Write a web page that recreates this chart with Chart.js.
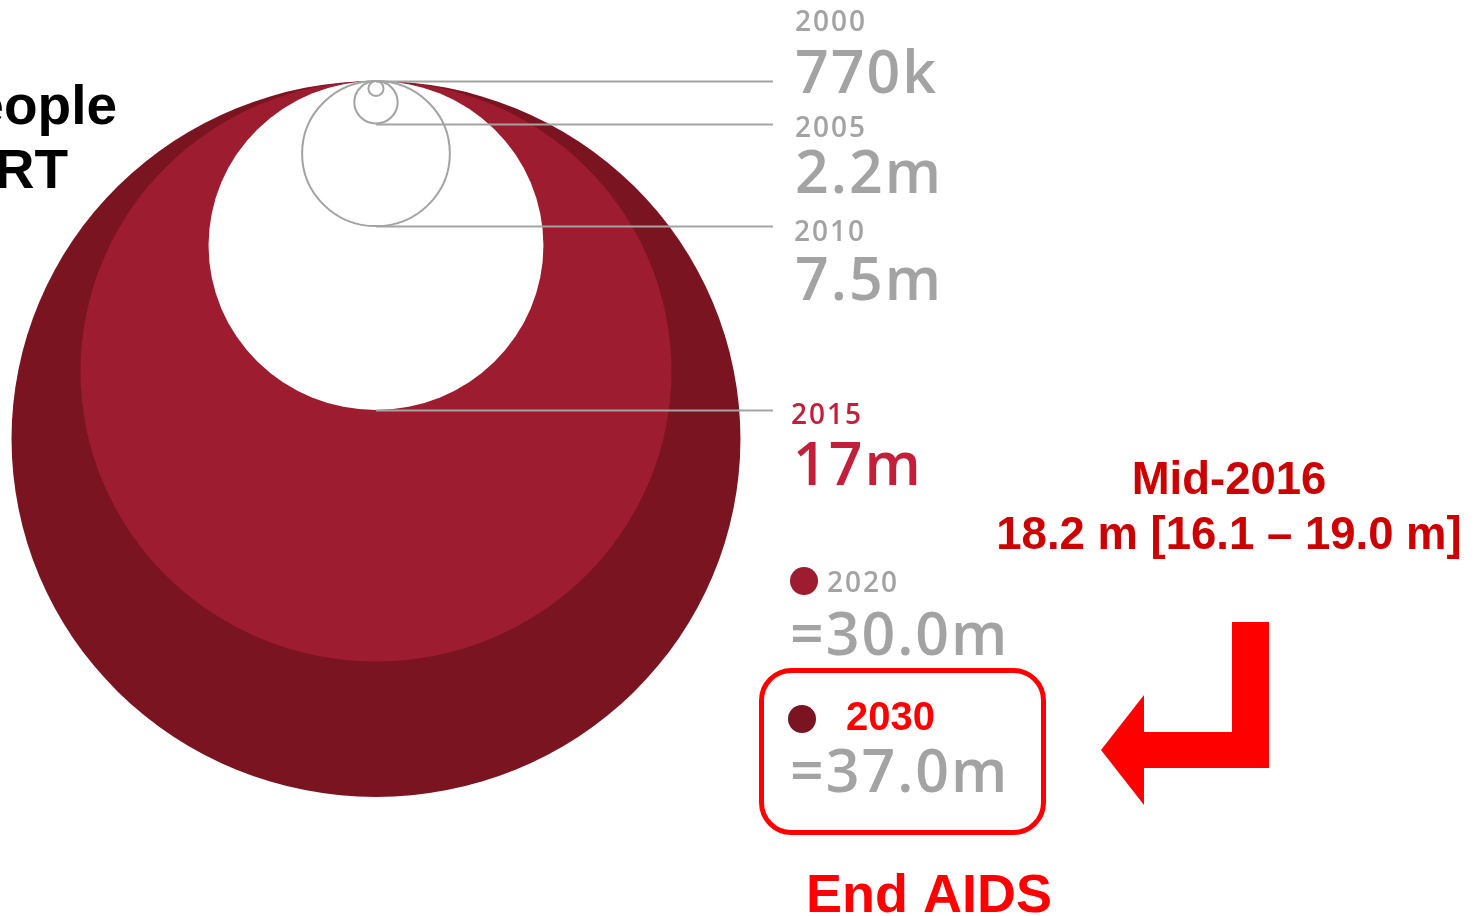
<!DOCTYPE html>
<html>
<head>
<meta charset="utf-8">
<script src="https://cdn.jsdelivr.net/npm/chart.js@4"></script>
<style>
  html, body { margin: 0; padding: 0; background: #fff; overflow: hidden; }
  #wrap { width: 1474px; height: 916px; }
</style>
</head>
<body>
<div id="wrap"><canvas id="chart" width="1474" height="916"></canvas></div>
<script>
// people on ART (millions), diameter of each circle is proportional to the value
const years = ['2000', '2005', '2010', '2015', '2020', '2030'];
const values = [0.77, 2.2, 7.5, 17, 30, 37];
const valueLabels = ['770k', '2.2m', '7.5m', '17m', '=30.0m', '=37.0m'];

const fills = ['none', 'none', 'none', '#ffffff', '#9d1c2f', '#7a1420'];
const grey = '#a3a3a3';
const numFont = '"Open Sans", "Noto Sans", sans-serif';

const circlesPlugin = {
    id: 'circles',
    beforeDatasetsDraw(chart) {
        const { ctx, scales: { x, y } } = chart;
        const sx = x.getPixelForValue(1) - x.getPixelForValue(0);
        const sy = y.getPixelForValue(1) - y.getPixelForValue(0);
        const cx = x.getPixelForValue(0);
        ctx.save();
        for (let i = values.length - 1; i >= 0; i--) {
            const v = values[i];
            ctx.beginPath();
            ctx.ellipse(cx, y.getPixelForValue(v), v * sx, Math.abs(v * sy), 0, 0, Math.PI * 2);
            if (fills[i] !== 'none') {
                ctx.fillStyle = fills[i];
                ctx.fill();
            } else {
                ctx.strokeStyle = grey;
                ctx.lineWidth = 2;
                ctx.stroke();
            }
        }
        // leader lines to the labels
        ctx.strokeStyle = grey;
        ctx.lineWidth = 2;
        for (let i = 0; i < 4; i++) {
            const ly = Math.round(y.getPixelForValue(i === 0 ? 0 : 2 * values[i])) + 0.5;
            ctx.beginPath();
            ctx.moveTo(cx, ly);
            ctx.lineTo(x.getPixelForValue(40.3), ly);
            ctx.stroke();
        }
        ctx.restore();
    }
};

const labelsPlugin = {
    id: 'labels',
    afterDraw(chart) {
        const ctx = chart.ctx;
        ctx.save();
        ctx.textBaseline = 'alphabetic';

        // left title (cut off by the frame)
        ctx.fillStyle = '#000';
        ctx.font = 'bold 55px "Liberation Sans", Arial, sans-serif';
        ctx.textAlign = 'right';
        ctx.fillText('Number of people', 117, 124);
        ctx.fillText('on ART', 68, 188);

        // year / value labels
        ctx.textAlign = 'left';
        const yearPos = [[795, 31], [795, 137], [794, 241], [791, 424], [827, 592]];
        const valPos = [[795, 93], [795, 193], [795, 300], [793, 485], [790, 655], [790, 792]];
        ctx.letterSpacing = '2px';
        for (let i = 0; i < 5; i++) {
            ctx.fillStyle = i === 3 ? '#c21f3a' : grey;
            ctx.font = '600 28px ' + numFont;
            ctx.fillText(years[i], yearPos[i][0], yearPos[i][1]);
        }
        for (let i = 0; i < 6; i++) {
            ctx.fillStyle = i === 3 ? '#c21f3a' : grey;
            ctx.font = '600 59px ' + numFont;
            ctx.fillText(valueLabels[i], valPos[i][0], valPos[i][1]);
        }
        ctx.letterSpacing = '0px';

        // legend dots
        ctx.fillStyle = fills[4];
        ctx.beginPath(); ctx.arc(804, 581, 14, 0, Math.PI * 2); ctx.fill();
        ctx.fillStyle = fills[5];
        ctx.beginPath(); ctx.arc(802, 719, 14, 0, Math.PI * 2); ctx.fill();

        // 2030 box
        ctx.strokeStyle = '#ff0000';
        ctx.lineWidth = 5;
        ctx.beginPath();
        ctx.roundRect(761.5, 670.5, 282, 162, 30);
        ctx.stroke();
        ctx.fillStyle = '#ff0000';
        ctx.font = 'bold 40px "Liberation Sans", Arial, sans-serif';
        ctx.fillText(years[5], 846, 730);
        ctx.font = 'bold 54px "Liberation Sans", Arial, sans-serif';
        ctx.fillText('End AIDS', 806, 912);

        // mid-2016 note
        ctx.fillStyle = '#cc0000';
        ctx.textAlign = 'center';
        ctx.font = 'bold 45.5px "Liberation Sans", Arial, sans-serif';
        ctx.fillText('Mid-2016', 1229, 494);
        ctx.fillText('18.2 m [16.1 \u2013 19.0 m]', 1229, 549);

        // arrow
        ctx.fillStyle = '#ff0000';
        ctx.beginPath();
        ctx.moveTo(1232, 622);
        ctx.lineTo(1269, 622);
        ctx.lineTo(1269, 768);
        ctx.lineTo(1144, 768);
        ctx.lineTo(1144, 805);
        ctx.lineTo(1101, 750);
        ctx.lineTo(1144, 695);
        ctx.lineTo(1144, 732);
        ctx.lineTo(1232, 732);
        ctx.closePath();
        ctx.fill();
        ctx.restore();
    }
};

new Chart(document.getElementById('chart'), {
    type: 'scatter',
    data: {
        datasets: [{
            data: values.map(v => ({ x: 0, y: v })),
            pointRadius: 0
        }]
    },
    options: {
        responsive: false,
        animation: false,
        layout: { padding: 0 },
        plugins: { legend: { display: false }, tooltip: { enabled: false } },
        scales: {
            x: { display: false, min: -38.17, max: 111.47 },
            y: { display: false, reverse: true, min: -8.37, max: 86.3 }
        }
    },
    plugins: [circlesPlugin, labelsPlugin]
});
</script>
</body>
</html>
